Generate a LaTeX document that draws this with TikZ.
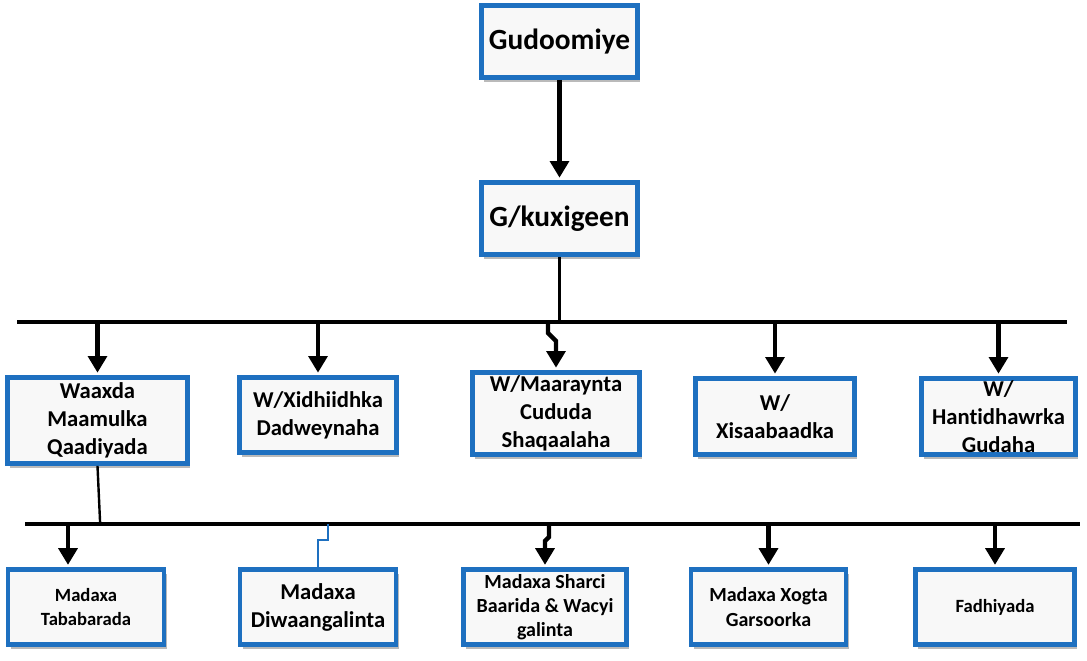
\documentclass[tikz,border=0pt]{standalone}
\usepackage{fontspec}
\setmainfont{Carlito}[Ligatures=NoCommon]
\usetikzlibrary{positioning,arrows.meta,calc,shadows}
\definecolor{boxblue}{RGB}{30,112,192}
\definecolor{boxfill}{RGB}{248,248,248}

\begin{document}
\begin{tikzpicture}[
    x=0.75pt, y=-0.75pt,
    unit/.style={rectangle, draw=boxblue, line width=3.6pt, fill=boxfill, align=center, inner sep=0pt, font=\bfseries,
        drop shadow={shadow xshift=2pt, shadow yshift=-3.5pt, fill=black!45, opacity=0.6}},
    head_unit/.style={unit, minimum width=117pt, minimum height=54pt, font=\bfseries\fontsize{22}{26}\selectfont},
    dept_unit/.style={unit, minimum height=57pt, font=\bfseries\fontsize{17}{21}\selectfont},
    sub_unit/.style={unit, minimum width=117pt, minimum height=56pt},
    bus/.style={line width=2.6pt},
    link/.style={line width=1.8pt},
    drop/.style={line width=3.3pt, shorten >=1.8pt, -{Triangle[width=14pt,length=12.5pt]}}
]
\useasboundingbox (0,0) rectangle (1087,660);

% Top part
\node[head_unit] (gudoomiye) at (559.5,41.5) {Gudoomiye};
\node[head_unit] (kuxigeen) at (559.5,218.5) {G/kuxigeen};
\draw[drop] (gudoomiye) -- (kuxigeen);

% Departments
\coordinate (bus1w) at (17,322);
\coordinate (bus1e) at (1067,322);
\draw[bus] (bus1w) -- (bus1e);
\draw[link] (kuxigeen.south) -- (kuxigeen.south |- bus1w);

\node[dept_unit, minimum width=135pt, minimum height=64.5pt] (waaxda) at (97.5,420.5) {Waaxda\\Maamulka\\Qaadiyada};
\node[dept_unit, minimum width=117.75pt, minimum height=56.25pt] (xidhiidhka) at (318,415) {W/Xidhiidhka\\Dadweynaha};
\node[dept_unit, minimum width=125.25pt, minimum height=61.5pt] (maaraynta) at (556,413.5) {W/Maaraynta\\Cududa\\Shaqaalaha};
\node[dept_unit, minimum width=119.25pt] (xisaab) at (775,416.5) {W/\\Xisaabaadka};
\node[dept_unit, minimum width=115.5pt] (hantid) at (998.5,416.5) {W/\\Hantidhawrka\\Gudaha};

\draw[drop] (waaxda.north |- bus1w) -- (waaxda.north);
\draw[drop] (xidhiidhka.north |- bus1w) -- (xidhiidhka.north);
\draw[drop] ([xshift=-6pt]maaraynta.north |- bus1w) -- ++(0,11) -- ++(8,8) -- (maaraynta.north);
\draw[drop] (xisaab.north |- bus1w) -- (xisaab.north);
\draw[drop] (hantid.north |- bus1w) -- (hantid.north);

% Sections under Waaxda
\coordinate (bus2w) at (25,524);
\coordinate (bus2e) at (1080,524);
\draw[bus] (bus2w) -- (bus2e);
\draw[link] (waaxda.south) -- ([xshift=2pt]waaxda.south |- bus2w);

\node[sub_unit, font=\bfseries\fontsize{14}{18}\selectfont] (tababar) at (86,607) {Madaxa\\Tababarada};
\node[sub_unit, font=\bfseries\fontsize{17}{21}\selectfont] (diwaan) at (318,607) {Madaxa\\Diwaangalinta};
\node[sub_unit, minimum width=122.25pt, font=\bfseries\fontsize{15}{18}\selectfont] (sharci) at (545,607) {Madaxa Sharci\\Baarida \& Wacyi\\galinta};
\node[sub_unit, minimum width=116.25pt, font=\bfseries\fontsize{15}{18.5}\selectfont] (xogta) at (768.5,607) {Madaxa Xogta\\Garsoorka};
\node[sub_unit, minimum width=119.25pt, font=\bfseries\fontsize{14}{18}\selectfont] (fadhi) at (995,607) {Fadhiyada};

\draw[drop] ([xshift=-13.5pt]tababar.north |- bus2w) -- ([xshift=-13.5pt]tababar.north);
\draw[link, boxblue, line width=2.2pt] ([xshift=7.5pt]diwaan.north |- bus2w) -- ++(0,16) -| (diwaan.north);
\draw[drop] ([xshift=3pt]sharci.north |- bus2w) -- ++(0,13) -- ++(-4,4) -- (sharci.north);
\draw[drop] (xogta.north |- bus2w) -- (xogta.north);
\draw[drop] (fadhi.north |- bus2w) -- (fadhi.north);

\end{tikzpicture}
\end{document}
